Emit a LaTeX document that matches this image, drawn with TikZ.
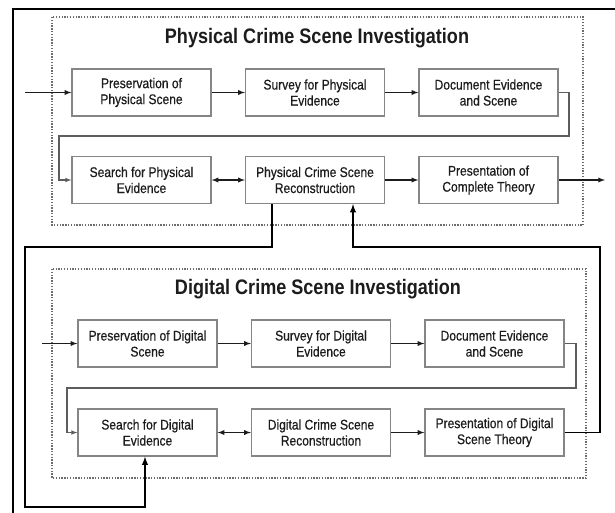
\documentclass[tikz,border=0pt]{standalone}
\usepackage{fontspec}
\setmainfont[FakeStretch=0.86]{Liberation Sans}
\newfontfamily\boxfont[FakeStretch=0.86,FakeBold=0.6]{Liberation Sans}
\usetikzlibrary{arrows.meta}
\definecolor{boxgray}{HTML}{858585}
\definecolor{ink}{HTML}{1C1C1C}
\tikzset{
  stage/.style={draw=boxgray, line width=1.3pt, text=ink, minimum width=139pt, minimum height=47pt,
    align=center, font=\boxfont\fontsize{14}{16}\selectfont, inner sep=0pt},
  phase/.style={draw=gray!85!black, line width=1.1pt, dash pattern=on 1.3pt off 1.5pt},
  heading/.style={anchor=base, text=ink, font=\fontsize{21}{24}\selectfont\bfseries},
  flow/.style={->, line width=1.3pt, draw=ink},
  loop/.style={->, line width=1.1pt, draw=boxgray!70!black},
  feed/.style={->, line width=1.8pt, draw=black}
}
\begin{document}
\begin{tikzpicture}[>=latex, x=1pt, y=-1pt]
\useasboundingbox (0,0) rectangle (615,512);
\draw[line width=2pt] (13,530)--(13,9)--(630,9);
\draw[phase] (52,17) rectangle (583,225);
\draw[phase] (52,269) rectangle (586,478);
\node[heading] (ptitle) at (317,43) {Physical Crime Scene Investigation};
\node[heading] (dtitle) at (318,294) {Digital Crime Scene Investigation};

\node[stage] (pbox1) at (141.5,92.5) {Preservation of\\Physical Scene};
\node[stage] (pbox2) at (315,92.5) {Survey for Physical\\Evidence};
\node[stage] (pbox3) at (488.5,92.5) {Document Evidence\\and Scene};
\node[stage] (pbox4) at (141.5,180) {Search for Physical\\Evidence};
\node[stage] (pbox5) at (315,180) {Physical Crime Scene\\Reconstruction};
\node[stage] (pbox6) at (488.5,180) {Presentation of\\Complete Theory};

\node[stage] (dbox1) at (147.5,343.5) {Preservation of Digital\\Scene};
\node[stage] (dbox2) at (321,343.5) {Survey for Digital\\Evidence};
\node[stage] (dbox3) at (494.5,343.5) {Document Evidence\\and Scene};
\node[stage] (dbox4) at (147.5,432.5) {Search for Digital\\Evidence};
\node[stage] (dbox5) at (321,432.5) {Digital Crime Scene\\Reconstruction};
\node[stage] (dbox6) at (494.5,432.5) {Presentation of Digital\\Scene Theory};

\coordinate (pin) at (25,92.5);
\coordinate (pout) at (605,180);
\coordinate (din) at (42,343.5);
\coordinate (pturn) at (569,136);
\coordinate (pback) at (59,136);
\coordinate (dturn) at (576,388);
\coordinate (dback) at (67,388);
\coordinate (downA) at (272,247);
\coordinate (downB) at (25,507);
\coordinate (downC) at (145,507);
\coordinate (upA) at (600,247);
\coordinate (upB) at (353,247);

\draw[flow] (pin)--(pbox1);
\draw[flow] (pbox1)--(pbox2);
\draw[flow] (pbox2)--(pbox3);
\draw[loop] (pbox3.east)-|(pturn)-|(pback)|-(pbox4.west);
\draw[flow,<->] (pbox4)--(pbox5);
\draw[flow] (pbox5)--(pbox6);
\draw[flow] (pbox6.east)--(pout);

\draw[flow] (din)--(dbox1);
\draw[flow] (dbox1)--(dbox2);
\draw[flow] (dbox2)--(dbox3);
\draw[loop] (dbox3.east)-|(dturn)-|(dback)|-(dbox4.west);
\draw[flow,<->] (dbox4)--(dbox5);
\draw[flow] (dbox5)--(dbox6);

\draw[feed] (downA |- pbox5.south)--(downA)-|(downB)--(downC)--(downC |- dbox4.south);
\draw[feed] (dbox6.east)-|(upA)--(upB)--(upB |- pbox5.south);
\end{tikzpicture}
\end{document}
